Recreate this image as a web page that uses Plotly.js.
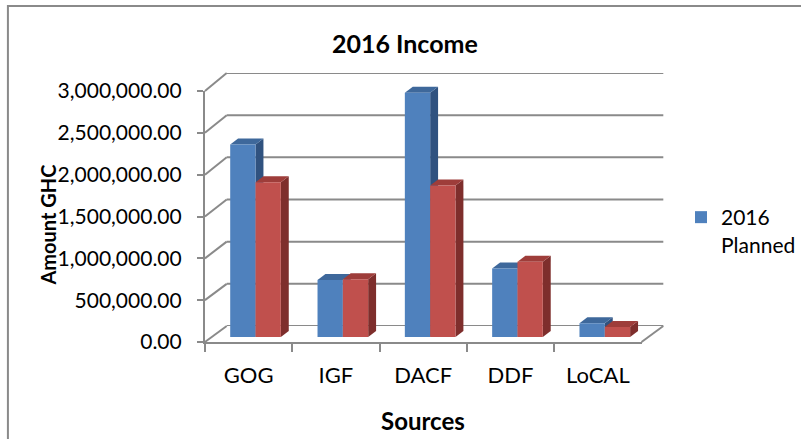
<!DOCTYPE html>
<html>
<head>
<meta charset="utf-8">
<script src="https://cdn.plot.ly/plotly-3.0.1.min.js"></script>
<style>html,body{margin:0;padding:0;background:#fff;}#chart{width:801px;height:439px;}</style>
</head>
<body>
<div id="chart"></div>
<script>
// ---- data ----
const categories = ['GOG', 'IGF', 'DACF', 'DDF', 'LoCAL'];
const planned = [2300000, 680000, 2920000, 820000, 165000];
const actual = [1850000, 690000, 1810000, 900000, 120000];
const yTicks = [0, 500000, 1000000, 1500000, 2000000, 2500000, 3000000];
const plannedName = '2016<br>Planned';
const actualName = '2016 Actual';
const chartTitle = '2016 Income';
const yTitle = 'Amount GHC';
const xTitle = 'Sources';

// ---- geometry / style ----
const W = 801, H = 439, yMax = 3000000;
const front = {x0: 207, x1: 648, yBase: 342, yTop: 91};
const back = {x0: 229, x1: 670, yBase: 326, yTop: 73};
const plane = {x0: 214, x1: 655, yBase: 337, yTop: 86};
const px = v => v / W, py = v => 1 - v / H;
const gridColor = '#8a8a8a';
const FONT = 'Lato, "Open Sans", sans-serif';
const blue = {front: '#4F81BD', top: '#3E689B', side: '#30527F'};
const red = {front: '#C0504D', top: '#9E3D3A', side: '#7E2E2C'};
const barGap = 0.42, bw = (1 - barGap) / 2;
const dxU = 8 / ((plane.x1 - plane.x0) / categories.length);
const dyU = 6 * yMax / (plane.yBase - plane.yTop);
const idx = categories.map((c, i) => i);

const traces = [
  {type: 'bar', x: idx, y: planned, name: plannedName, marker: {color: blue.front}, xaxis: 'x', yaxis: 'y', hoverinfo: 'skip'},
  {type: 'bar', x: idx, y: actual, name: actualName, marker: {color: red.front}, xaxis: 'x', yaxis: 'y', showlegend: false, hoverinfo: 'skip'},
  {type: 'scatter', mode: 'markers', x: categories, y: planned, xaxis: 'x3', yaxis: 'y3', marker: {opacity: 0}, showlegend: false, hoverinfo: 'skip'}
];

const shapes = [];
// outer frame
shapes.push({type: 'rect', xref: 'paper', yref: 'paper', x0: px(8), x1: 1.05, y0: py(6), y1: -0.05, line: {color: gridColor, width: 2}, layer: 'below'});
// back wall gridlines + left wall diagonals
const fy = v => py(front.yBase) + v / yMax * (py(front.yTop) - py(front.yBase));
const by = v => py(back.yBase) + v / yMax * (py(back.yTop) - py(back.yBase));
yTicks.forEach(v => {
  shapes.push({type: 'line', xref: 'paper', yref: 'y2', x0: px(back.x0), x1: px(back.x1), y0: v, y1: v, line: {color: gridColor, width: 2}, layer: 'below'});
  shapes.push({type: 'line', xref: 'paper', yref: 'paper', x0: px(front.x0), x1: px(back.x0), y0: fy(v), y1: by(v), line: {color: gridColor, width: 2}, layer: 'below'});
});
// floor right edge
shapes.push({type: 'line', xref: 'paper', yref: 'paper', x0: px(front.x1), x1: px(back.x1), y0: fy(0), y1: by(0), line: {color: gridColor, width: 2}, layer: 'below'});

// 3D faces of bars
function faces(vals, offset, col) {
  vals.forEach((v, i) => {
    const l = i + offset, r = l + bw;
    shapes.push({type: 'path', xref: 'x', yref: 'y', layer: 'below', line: {width: 0}, fillcolor: col.side,
      path: `M ${r},0 L ${r},${v} L ${r + dxU},${v + dyU} L ${r + dxU},${dyU} Z`});
    shapes.push({type: 'path', xref: 'x', yref: 'y', layer: 'below', line: {width: 0}, fillcolor: col.top,
      path: `M ${l},${v} L ${r},${v} L ${r + dxU},${v + dyU} L ${l + dxU},${v + dyU} Z`});
  });
}
faces(planned, -bw, blue);
faces(actual, 0, red);

const layout = {
  width: W, height: H, autosize: false,
  margin: {l: 0, r: 0, t: 0, b: 0, pad: 0},
  paper_bgcolor: '#ffffff', plot_bgcolor: 'rgba(0,0,0,0)',
  font: {family: FONT, color: '#000'},
  barmode: 'group', bargap: barGap, bargroupgap: 0,
  title: {text: '<b>' + chartTitle + '</b>', x: px(409), y: py(44), xanchor: 'center', yanchor: 'middle', xref: 'paper', yref: 'paper', font: {family: FONT, size: 25, color: '#000'}},
  xaxis: {domain: [px(plane.x0), px(plane.x1)], range: [-0.5, categories.length - 0.5], visible: false, fixedrange: true, anchor: 'y'},
  yaxis: {domain: [py(plane.yBase), py(plane.yTop)], range: [0, yMax], visible: false, fixedrange: true, anchor: 'x'},
  xaxis2: {domain: [px(back.x0), px(back.x1)], range: [0, 1], visible: false, anchor: 'y2'},
  yaxis2: {domain: [py(back.yBase), py(back.yTop)], range: [0, yMax], visible: false, anchor: 'x2'},
  xaxis3: {domain: [px(front.x0), px(front.x1)], type: 'category', range: [-0.5, categories.length - 0.5], anchor: 'y3',
    tickson: 'boundaries', ticks: 'outside', ticklen: 8, tickwidth: 2, tickcolor: gridColor,
    showline: true, linecolor: gridColor, linewidth: 2, showgrid: false, zeroline: false,
    tickfont: {family: FONT, size: 22, color: '#000'}, ticklabelstandoff: 13},
  yaxis3: {domain: [py(front.yBase), py(front.yTop)], range: [0, yMax], anchor: 'x3',
    tickvals: yTicks, tickformat: ',.2f', ticks: 'outside', ticklen: 6, tickwidth: 2, tickcolor: gridColor,
    showline: true, linecolor: gridColor, linewidth: 2, showgrid: false, zeroline: false,
    tickfont: {family: FONT, size: 21, color: '#000'}, ticklabelstandoff: 11},
  showlegend: true,
  legend: {x: px(688), y: py(197), xanchor: 'left', yanchor: 'top', bgcolor: 'rgba(0,0,0,0)', borderwidth: 0,
    font: {family: FONT, size: 21, color: '#000'}, itemwidth: 30, valign: 'top', tracegroupgap: 0},
  annotations: [
    {text: '<b>' + yTitle + '</b>', xref: 'paper', yref: 'paper', x: px(48), y: py(225), textangle: -90, showarrow: false, xanchor: 'center', yanchor: 'middle', font: {family: FONT, size: 20, color: '#000'}},
    {text: '<b>' + xTitle + '</b>', xref: 'paper', yref: 'paper', x: px(427), y: py(420), showarrow: false, xanchor: 'center', yanchor: 'middle', font: {family: FONT, size: 24, color: '#000'}}
  ],
  shapes: shapes
};

Plotly.newPlot('chart', traces, layout, {displayModeBar: false, staticPlot: true});
</script>
</body>
</html>
